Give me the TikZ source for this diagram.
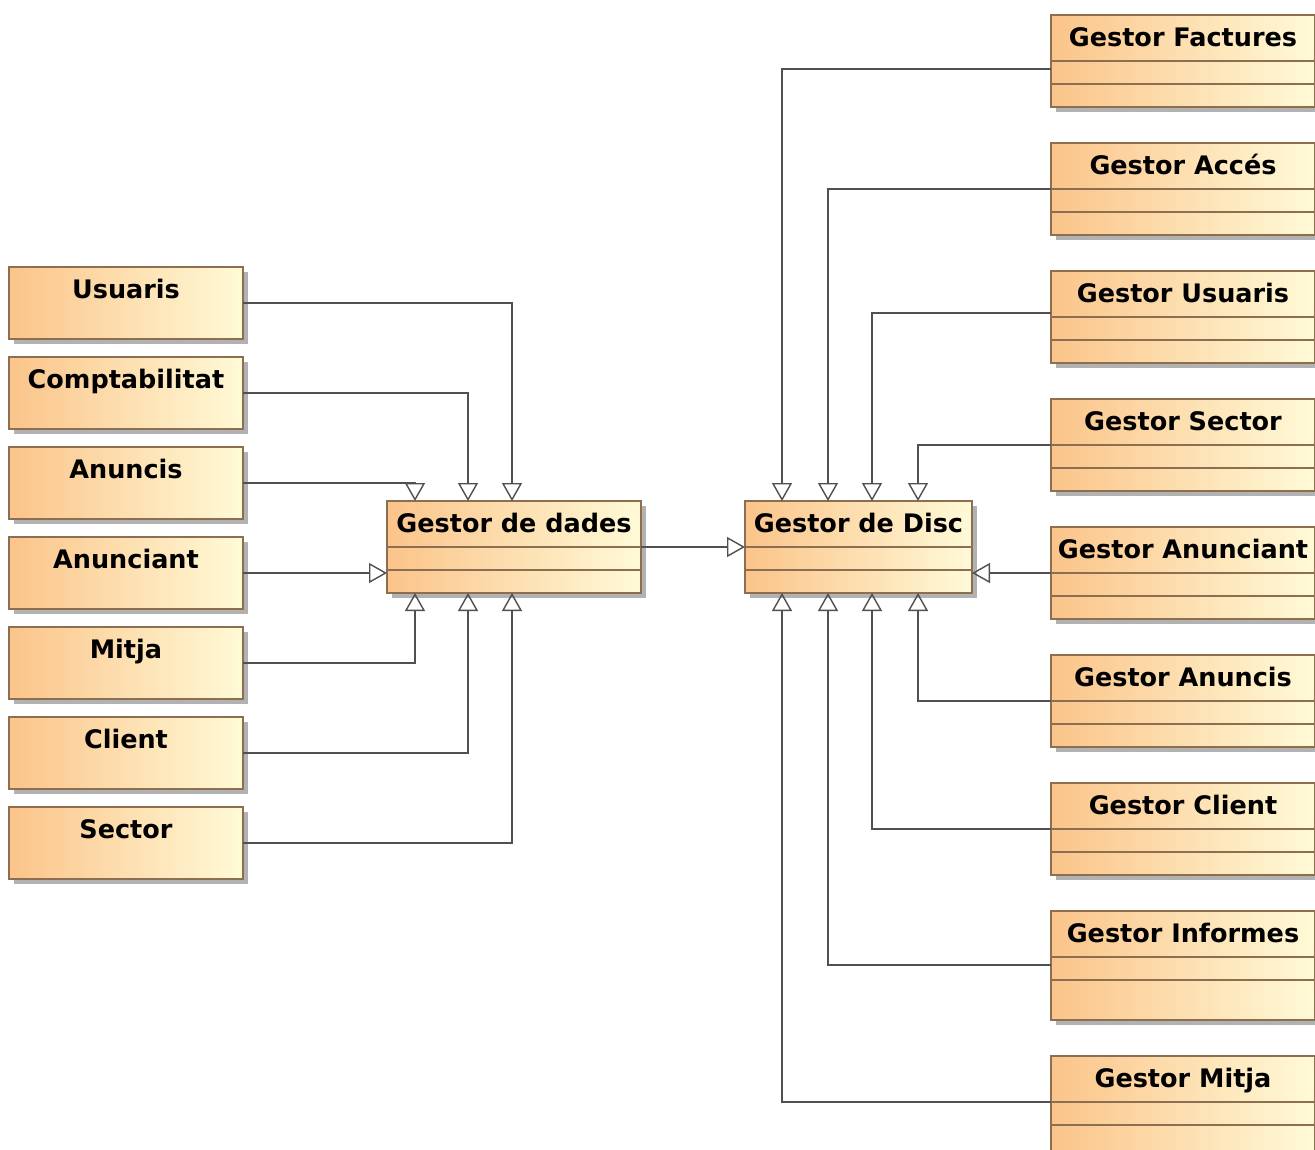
\documentclass[tikz,border=0pt]{standalone}
\usepackage{fontspec}
\setmainfont{DejaVu Sans}
\usepackage{tikz}
\usetikzlibrary{positioning, arrows.meta, calc, shadows}
\definecolor{umlorange}{RGB}{251, 196, 138}
\definecolor{umlcream}{RGB}{255, 250, 215}
\definecolor{umlborder}{RGB}{140, 110, 80}
\definecolor{umlline}{RGB}{80, 80, 80}

\begin{document}
\begin{tikzpicture}[x=1pt, y=1pt, node distance=18pt,
    classbox/.style={draw=umlborder, line width=1.2pt, left color=umlorange, right color=umlcream, inner sep=0pt, outer sep=0pt, drop shadow={shadow xshift=5pt, shadow yshift=-5pt, fill=black!30, opacity=1}},
    smallbox/.style={classbox, minimum width=234pt, minimum height=72pt},
    gestorbox/.style={classbox, minimum width=264pt, minimum height=92pt},
    boxtitle/.style={anchor=base, yshift=-31pt, font=\bfseries\fontsize{25.5}{30}\selectfont},
    compline/.style={draw=umlborder, line width=1.2pt},
    genarrow/.style={draw=umlline, line width=1.4pt, -{Triangle[open, length=18pt, width=20pt]}}]
        \useasboundingbox (0,0) rectangle (1315,-1149);

        % left column
        \node[smallbox, anchor=north west, label={[boxtitle]north:Usuaris}] (usuaris) at (9,-267) {};
        \node[smallbox, below=of usuaris, label={[boxtitle]north:Comptabilitat}] (comptab) {};
        \node[smallbox, below=of comptab, label={[boxtitle]north:Anuncis}] (anuncis) {};
        \node[smallbox, below=of anuncis, label={[boxtitle]north:Anunciant}] (anunciant) {};
        \node[smallbox, below=of anunciant, label={[boxtitle]north:Mitja}] (mitja) {};
        \node[smallbox, below=of mitja, label={[boxtitle]north:Client}] (client) {};
        \node[smallbox, below=of client, label={[boxtitle]north:Sector}] (sector) {};

        % middle
        \node[gestorbox, minimum width=254pt, anchor=north west, label={[boxtitle]north:Gestor de dades}] (dades) at (387,-501) {};
        \node[gestorbox, minimum width=227pt, anchor=north west, label={[boxtitle]north:Gestor de Disc}] (disc) at (745,-501) {};

        % right column
        \node[gestorbox, anchor=north west, label={[boxtitle]north:Gestor Factures}] (gfactures) at (1051,-15) {};
        \node[gestorbox, below=36pt of gfactures, label={[boxtitle]north:Gestor Accés}] (gacces) {};
        \node[gestorbox, below=36pt of gacces, label={[boxtitle]north:Gestor Usuaris}] (gusuaris) {};
        \node[gestorbox, below=36pt of gusuaris, label={[boxtitle]north:Gestor Sector}] (gsector) {};
        \node[gestorbox, below=36pt of gsector, label={[boxtitle]north:Gestor Anunciant}] (ganunciant) {};
        \node[gestorbox, below=36pt of ganunciant, label={[boxtitle]north:Gestor Anuncis}] (ganuncis) {};
        \node[gestorbox, below=36pt of ganuncis, label={[boxtitle]north:Gestor Client}] (gclient) {};
        \node[gestorbox, minimum height=109pt, below=36pt of gclient, label={[boxtitle]north:Gestor Informes}] (ginformes) {};
        \node[gestorbox, minimum height=109pt, below=36pt of ginformes, label={[boxtitle]north:Gestor Mitja}] (gmitja) {};

        % compartments
        \foreach \n in {dades, disc, gfactures, gacces, gusuaris, gsector, ganunciant, ganuncis, gclient, ginformes, gmitja}
            \foreach \d in {46, 69}
                \draw[compline] ([yshift=-\d pt]\n.north west) -- ([yshift=-\d pt]\n.north east);

        % generalisations into Gestor de dades
        \draw[genarrow] (usuaris.east) -| ([xshift=125pt]dades.north west);
        \draw[genarrow] (comptab.east) -| ([xshift=81pt]dades.north west);
        \draw[genarrow] (anuncis.east) -| ([xshift=28pt]dades.north west);
        \draw[genarrow] (anunciant.east) -- (anunciant.east -| dades.west);
        \draw[genarrow] (mitja.east) -| ([xshift=28pt]dades.south west);
        \draw[genarrow] (client.east) -| ([xshift=81pt]dades.south west);
        \draw[genarrow] (sector.east) -| ([xshift=125pt]dades.south west);

        \draw[genarrow] (dades.east) -- (disc.west);

        % generalisations into Gestor de Disc
        \draw[genarrow] ([yshift=-8pt]gfactures.west) -| ([xshift=37pt]disc.north west);
        \draw[genarrow] (gacces.west) -| ([xshift=83pt]disc.north west);
        \draw[genarrow] ([yshift=4pt]gusuaris.west) -| ([xshift=127pt]disc.north west);
        \draw[genarrow] (gsector.west) -| ([xshift=173pt]disc.north west);
        \draw[genarrow] (ganunciant.west) -- (ganunciant.west -| disc.east);
        \draw[genarrow] (ganuncis.west) -| ([xshift=173pt]disc.south west);
        \draw[genarrow] (gclient.west) -| ([xshift=127pt]disc.south west);
        \draw[genarrow] ([yshift=0.5pt]ginformes.west) -| ([xshift=83pt]disc.south west);
        \draw[genarrow] ([yshift=8.5pt]gmitja.west) -| ([xshift=37pt]disc.south west);
    \end{tikzpicture}
\end{document}
